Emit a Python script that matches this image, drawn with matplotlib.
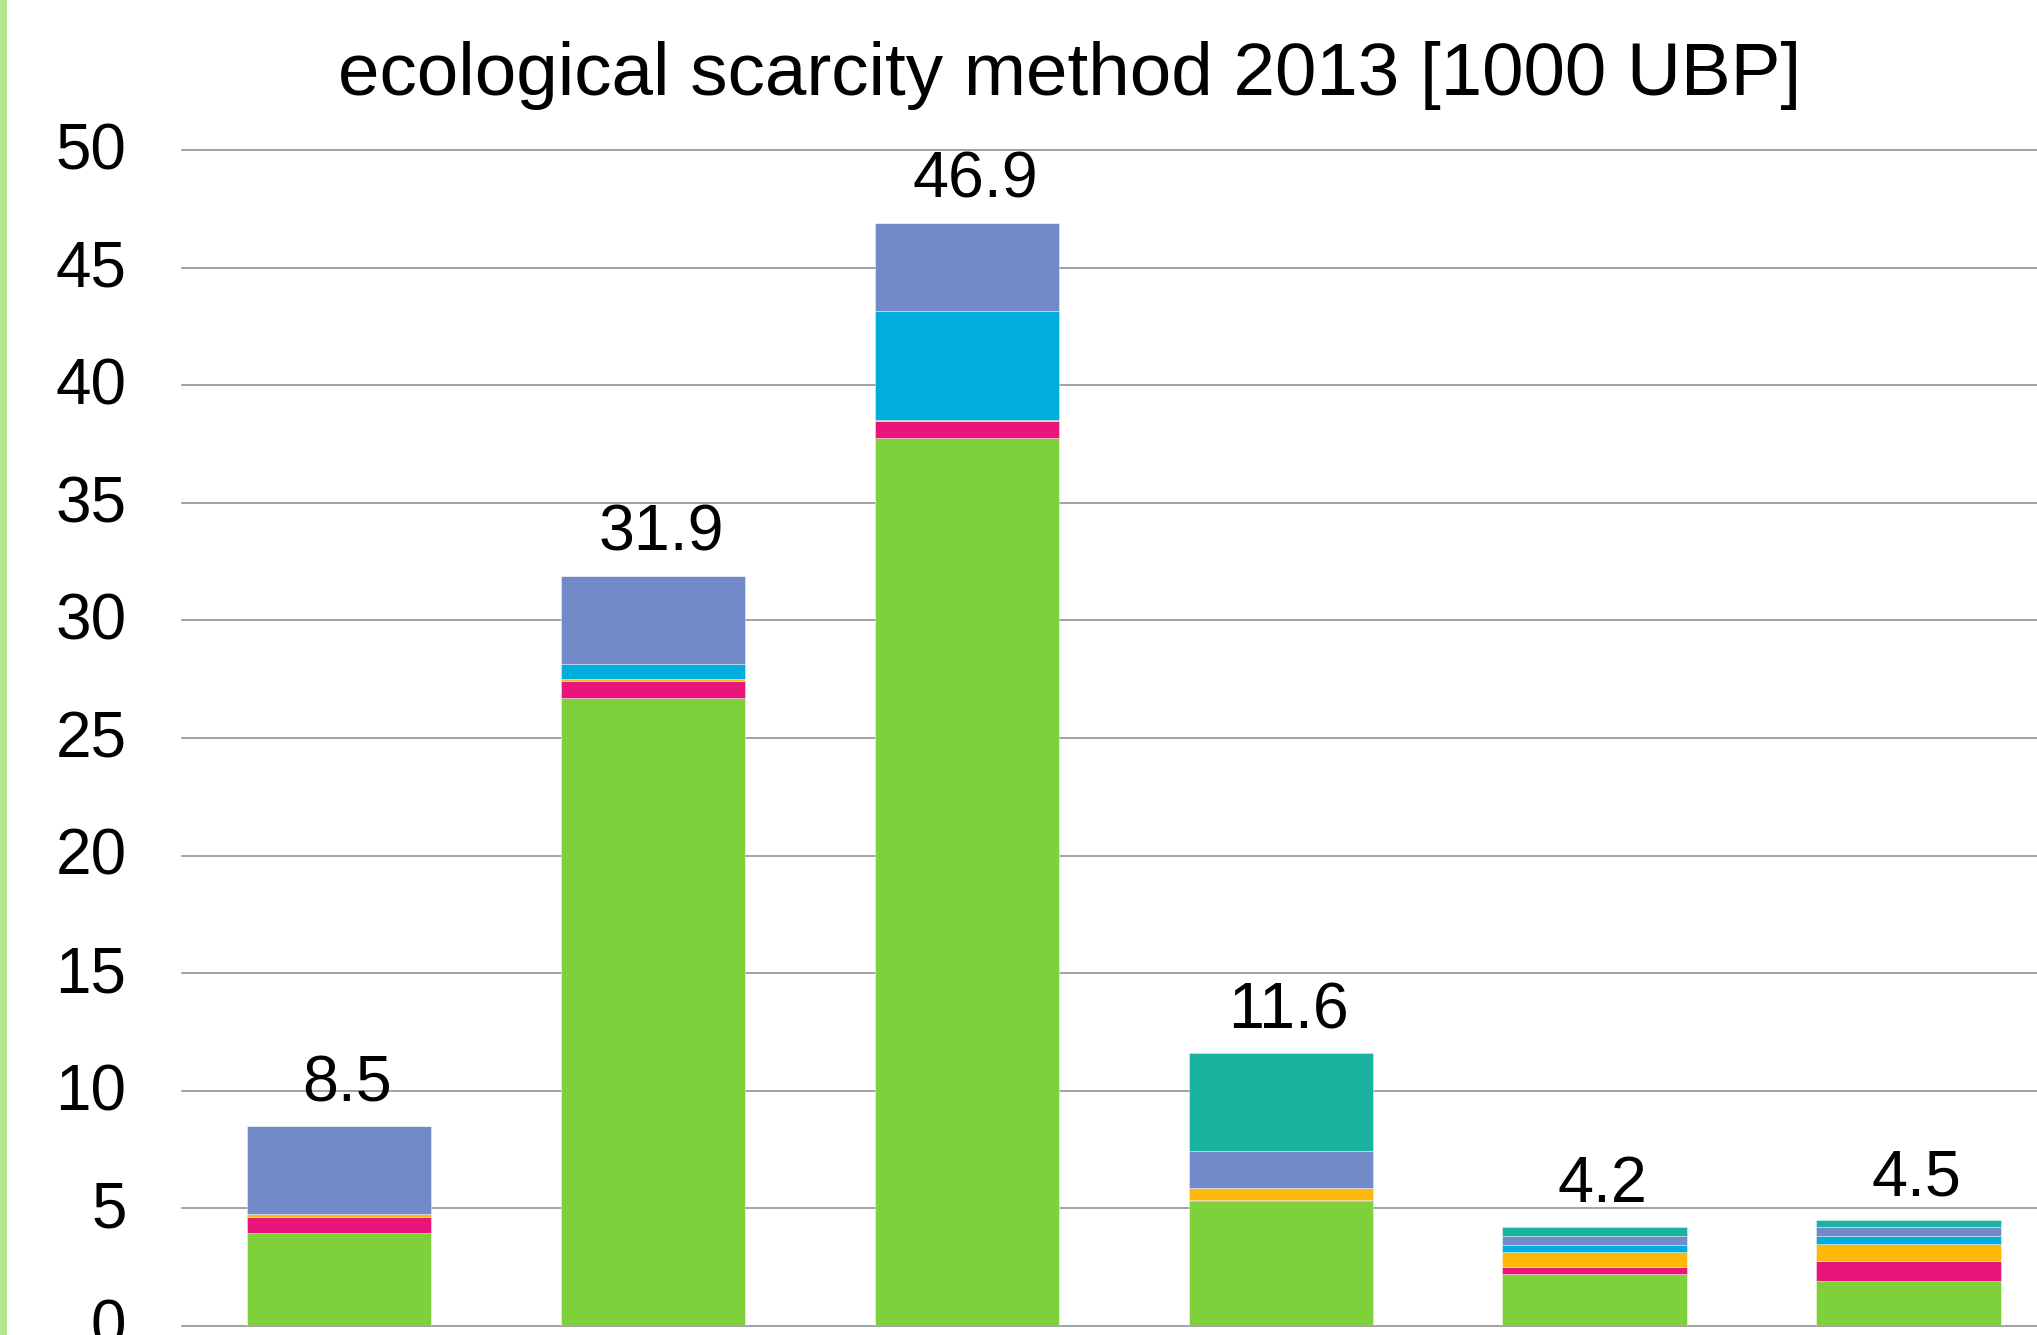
import numpy as np
import matplotlib
matplotlib.use("Agg")
import matplotlib.pyplot as plt
from matplotlib.patches import Rectangle
from matplotlib.transforms import ScaledTranslation

plt.rcParams["font.family"] = ["Liberation Sans", "DejaVu Sans"]

# Stacked contributions per bar, bottom to top (1000 UBP)
seg_green   = [3.97, 26.70, 37.76, 5.31, 2.21, 1.90]
seg_magenta = [0.67, 0.71, 0.70, 0.05, 0.30, 0.86]
seg_orange  = [0.11, 0.08, 0.08, 0.50, 0.65, 0.73]
seg_cyan    = [0.00, 0.66, 4.60, 0.00, 0.27, 0.33]
seg_blue    = [3.75, 3.75, 3.76, 1.57, 0.39, 0.38]
seg_teal    = [0.00, 0.00, 0.00, 4.17, 0.38, 0.30]

series = [seg_green, seg_magenta, seg_orange, seg_cyan, seg_blue, seg_teal]
colors = ["#7FD13B", "#EA157A", "#FEB80A", "#00ADDC", "#738AC8", "#1AB39F"]
y_ticks = list(range(0, 51, 5))
title = "ecological scarcity method 2013 [1000 UBP]"

W, H = 2037, 1335
fig = plt.figure(figsize=(W / 100, H / 100), dpi=100)

# light green strip along the left edge
fig.patches.append(Rectangle((0, 0), 7 / W, 1, transform=fig.transFigure,
                             facecolor="#B3E58F", edgecolor="none", zorder=0))

cat_w = 313.9
left_px, zero_px, top_px = 182, 1326, 150
ax = fig.add_axes([left_px / W, (H - zero_px) / H,
                   6 * cat_w / W, (zero_px - top_px) / H])
ax.set_xlim(-0.5, 5.5)
ax.set_ylim(0, 50)

x = np.arange(len(seg_green))
bottom = np.zeros(len(x))
for vals, col in zip(series, colors):
    vals = np.asarray(vals)
    ax.bar(x, vals, width=0.587, bottom=bottom, color=col,
           edgecolor=(1, 1, 1, 0.45), linewidth=0.6, zorder=3)
    bottom += vals

totals = bottom
for xi, tot in zip(x, totals):
    ax.annotate(f"{tot:.1f}", (xi, tot), xytext=(6, 18),
                textcoords="offset points", ha="center", va="baseline",
                fontsize=46.5, color="black", zorder=4)

for yv in y_ticks:
    ax.axhline(yv, color="#898989", linewidth=1.1, zorder=1, clip_on=False)

for s in ax.spines.values():
    s.set_visible(False)
ax.set_xticks([])
ax.set_yticks(y_ticks)
ax.set_yticklabels([str(v) for v in y_ticks], fontsize=46)
ax.tick_params(axis="y", length=0, pad=40)
shift = ScaledTranslation(0, 3 / 72, fig.dpi_scale_trans)
for lbl in ax.get_yticklabels():
    lbl.set_transform(lbl.get_transform() + shift)

fig.text(1070 / W, 1 - 95 / H, title, ha="center", va="baseline",
         fontsize=53.7, color="black")

fig.savefig("out.png", dpi=100)
